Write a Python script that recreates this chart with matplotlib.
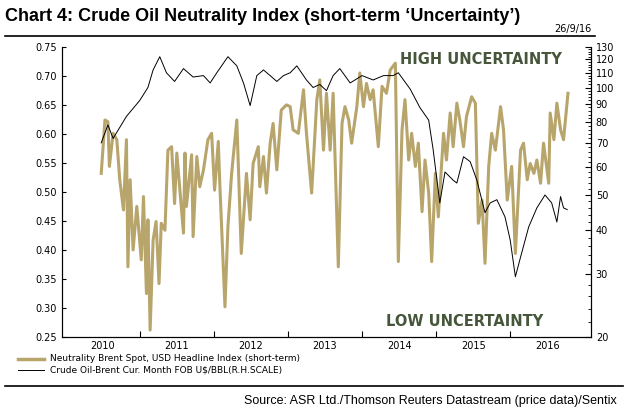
import matplotlib
matplotlib.use("Agg")
import matplotlib.pyplot as plt
import matplotlib.ticker as mt
import numpy as np

idx_t = [2010.48,2010.53,2010.57,2010.59,2010.64,2010.69,2010.73,2010.78,2010.82,2010.84,2010.87,2010.91,2010.96,
2011.02,2011.05,2011.09,2011.11,2011.14,2011.18,2011.22,2011.26,2011.29,2011.34,2011.38,2011.43,2011.47,2011.50,
2011.59,2011.61,2011.63,2011.70,2011.72,2011.77,2011.81,2011.86,2011.92,2011.97,2012.01,2012.06,2012.08,2012.15,
2012.19,2012.24,2012.31,2012.37,2012.44,2012.49,2012.53,2012.60,2012.62,2012.67,2012.71,2012.76,2012.80,2012.85,
2012.91,2012.98,2013.03,2013.07,2013.14,2013.21,2013.25,2013.32,2013.39,2013.43,2013.48,2013.52,2013.57,2013.61,2013.68,
2013.73,2013.77,2013.82,2013.86,2013.93,2013.97,2014.02,2014.06,2014.11,2014.15,2014.22,2014.27,2014.33,2014.38,2014.45,
2014.49,2014.54,2014.58,2014.63,2014.67,2014.72,2014.76,2014.81,2014.85,2014.90,2014.94,2014.99,2015.03,2015.10,2015.14,
2015.19,2015.23,2015.28,2015.32,2015.37,2015.41,2015.48,2015.53,2015.57,2015.62,2015.66,2015.71,2015.75,2015.80,2015.87,
2015.91,2015.96,2016.02,2016.07,2016.14,2016.18,2016.23,2016.27,2016.32,2016.36,2016.41,2016.45,2016.52,2016.54,2016.59,
2016.63,2016.68,2016.72,2016.78]
neutrality = [0.532,0.624,0.621,0.544,0.601,0.590,0.521,0.469,0.590,0.371,0.521,0.400,0.475,
0.383,0.492,0.325,0.452,0.262,0.417,0.449,0.342,0.446,0.434,0.572,0.578,0.480,0.567,
0.429,0.567,0.475,0.564,0.423,0.561,0.509,0.538,0.590,0.601,0.503,0.587,0.515,0.302,
0.440,0.532,0.624,0.394,0.532,0.452,0.549,0.578,0.509,0.561,0.498,0.584,0.618,0.538,
0.641,0.650,0.647,0.607,0.601,0.676,0.601,0.498,0.659,0.693,0.572,0.670,0.572,0.670,0.371,
0.618,0.647,0.624,0.584,0.647,0.705,0.647,0.687,0.659,0.676,0.578,0.682,0.670,0.710,0.722,
0.380,0.607,0.659,0.555,0.601,0.544,0.584,0.466,0.555,0.498,0.380,0.532,0.457,0.601,0.555,
0.636,0.578,0.653,0.624,0.578,0.630,0.664,0.653,0.446,0.486,0.377,0.544,0.601,0.572,0.647,
0.607,0.486,0.544,0.394,0.572,0.584,0.521,0.549,0.532,0.555,0.515,0.584,0.515,0.636,0.590,
0.653,0.607,0.590,0.670]

brent_t = [2010.48,2010.57,2010.64,2010.82,2011.00,2011.11,2011.18,2011.27,2011.36,2011.47,2011.59,2011.72,2011.86,
2011.95,2012.04,2012.19,2012.31,2012.40,2012.49,2012.58,2012.67,2012.76,2012.85,2012.94,2013.03,2013.12,2013.25,
2013.34,2013.43,2013.52,2013.61,2013.70,2013.84,2014.00,2014.15,2014.29,2014.42,2014.49,2014.65,2014.78,2014.90,
2014.96,2015.05,2015.12,2015.23,2015.28,2015.37,2015.46,2015.55,2015.66,2015.73,2015.82,2015.93,2016.00,2016.07,
2016.14,2016.25,2016.36,2016.47,2016.56,2016.63,2016.68,2016.72,2016.77]
brent = [70,78.6,72,83,92,100,112,122,110,104,113,107,108,
103,110,122,115,103,89,108,112,108,104,108,110,115,105,
100,102,98,108,113,103,108,105,108,108,110,99,88,81,
67,47.5,58,55,54,64,62,55,44.6,47.5,48.5,43.4,37.4,29.5,
33.5,40.7,46,50,47.5,42,49.5,46,45.5]
years = ["2010","2011","2012","2013","2014","2015","2016"]

plt.rcParams['font.family'] = ['DejaVu Sans']
fig = plt.figure(figsize=(6.26, 4.11), dpi=100)
ax = fig.add_axes([0.099, 0.18, 0.845, 0.706])
gold = '#b8a56c'
ax.plot(idx_t, neutrality, color=gold, lw=2.2)
ax.set_ylim(0.25, 0.75)
ax.set_xlim(2009.95, 2017.09)
ax.set_yticks(np.arange(0.25, 0.76, 0.05))
ax.yaxis.set_major_formatter(mt.FormatStrFormatter('%.2f'))
ax.set_xticks(range(2011, 2017))
ax.set_xticklabels([])
ax.set_xticks([y + 0.5 for y in range(2010, 2017)], minor=True)
ax.set_xticklabels(years, minor=True)
ax.tick_params(axis='x', which='minor', length=0, labelsize=7, pad=3)
ax.tick_params(axis='x', which='major', direction='in', length=4)
ax.tick_params(axis='y', direction='in', length=3, labelsize=7)
ax.spines['top'].set_visible(False)

ax2 = ax.twinx()
ax2.plot(brent_t, brent, color='black', lw=0.7)
ax2.set_yscale('log')
ax2.set_ylim(20, 130)
ax2.set_yticks([20, 30, 40, 50, 60, 70, 80, 90, 100, 110, 120, 130])
ax2.yaxis.set_major_formatter(mt.FormatStrFormatter('%d'))
ax2.yaxis.set_minor_locator(mt.FixedLocator(np.arange(22, 130, 2)))
ax2.yaxis.set_minor_formatter(mt.NullFormatter())
ax2.tick_params(axis='y', which='major', direction='in', length=4, labelsize=7)
ax2.tick_params(axis='y', which='minor', direction='in', length=2)
ax2.spines['top'].set_visible(False)

green = '#46563a'
ax.text(0.945, 0.955, 'HIGH UNCERTAINTY', transform=ax.transAxes, color=green,
        fontsize=10.5, fontweight='bold', ha='right', va='center')
ax.text(0.91, 0.055, 'LOW UNCERTAINTY', transform=ax.transAxes, color=green,
        fontsize=10.5, fontweight='bold', ha='right', va='center')

fig.text(0.008, 0.96, 'Chart 4: Crude Oil Neutrality Index (short-term \u2018Uncertainty\u2019)',
         fontsize=13, fontweight='bold', family=['Liberation Sans Narrow', 'Liberation Sans', 'DejaVu Sans'],
         va='center')
fig.add_artist(plt.Line2D([0.008, 0.95], [0.912, 0.912], color='black', lw=1.2))
fig.text(0.945, 0.917, '26/9/16', fontsize=7, ha='right', va='bottom')

fig.add_artist(plt.Line2D([0.028, 0.07], [0.127, 0.127], color=gold, lw=2.5))
fig.text(0.08, 0.127, 'Neutrality Brent Spot, USD Headline Index (short-term)', fontsize=6.5, va='center')
fig.add_artist(plt.Line2D([0.028, 0.07], [0.1, 0.1], color='black', lw=0.7))
fig.text(0.08, 0.1, 'Crude Oil-Brent Cur. Month FOB U$/BBL(R.H.SCALE)', fontsize=6.5, va='center')
fig.add_artist(plt.Line2D([0.008, 0.995], [0.062, 0.062], color='black', lw=1.2))
fig.text(0.985, 0.025, 'Source: ASR Ltd./Thomson Reuters Datastream (price data)/Sentix',
         fontsize=9, ha='right', va='center', family=['Liberation Sans Narrow', 'Liberation Sans', 'DejaVu Sans'])

fig.savefig('out.png', dpi=100)
